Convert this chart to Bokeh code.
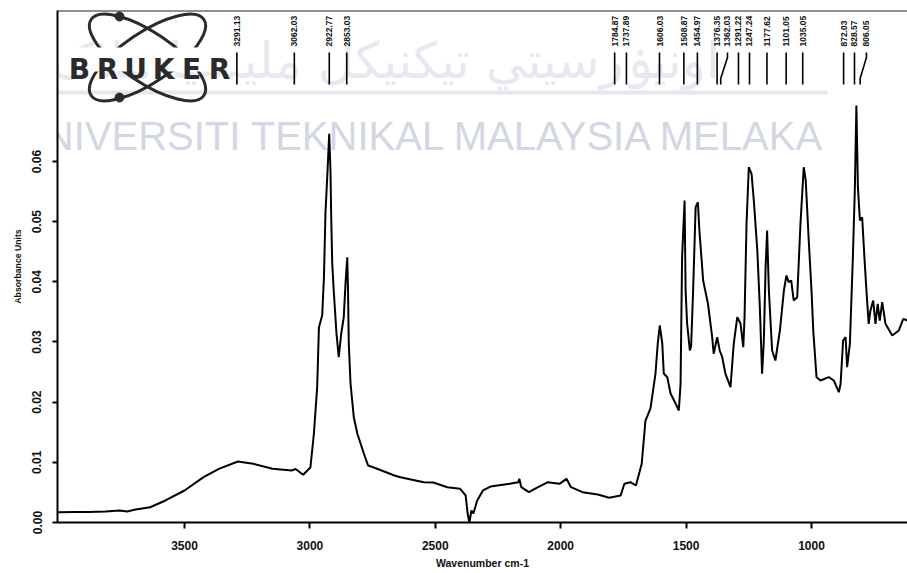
import math
from bokeh.plotting import figure
from bokeh.models import Range1d, FixedTicker, Span, Label, PrintfTickFormatter
from bokeh.core.properties import value
from bokeh.embed import file_html
from bokeh.resources import INLINE

# ---------------- data ----------------
wavenumber = [4004, 3934, 3883, 3815, 3759, 3729, 3695, 3637, 3576, 3500, 3424, 3363, 3287, 3226,
              3149, 3073, 3057, 3027, 2998, 2984, 2971, 2964, 2951, 2944, 2938, 2929, 2923, 2918,
              2915, 2911, 2905, 2894, 2885, 2875, 2865, 2858, 2851, 2848, 2845, 2838, 2825, 2811,
              2785, 2768, 2745, 2663, 2639, 2546, 2508, 2452, 2401, 2379, 2371, 2364, 2356, 2348,
              2333, 2310, 2280, 2203, 2169, 2165, 2157, 2127, 2096, 2051, 2005, 1977, 1959, 1913,
              1852, 1807, 1761, 1746, 1722, 1700, 1677, 1662, 1642, 1622, 1613, 1605, 1595, 1589,
              1575, 1562, 1542, 1529, 1522, 1516, 1506, 1502, 1496, 1485, 1480, 1472, 1462, 1453,
              1447, 1432, 1413, 1396, 1390, 1376, 1366, 1356, 1343, 1323, 1310, 1296, 1283, 1272,
              1267, 1259, 1250, 1239, 1230, 1216, 1206, 1197, 1190, 1183, 1177, 1170, 1157, 1144,
              1126, 1110, 1100, 1091, 1081, 1071, 1057, 1044, 1031, 1023, 1011, 1000, 993, 980,
              964, 931, 911, 891, 884, 874, 864, 858, 847, 835, 827, 821, 815, 807, 798, 789, 781,
              772, 765, 754, 745, 736, 728, 718, 705, 678, 652, 634, 618]
absorbance = [0.00171, 0.00175, 0.00175, 0.00183, 0.00200, 0.00183, 0.00216, 0.00254, 0.00366,
              0.00532, 0.00753, 0.00892, 0.01014, 0.00976, 0.00892, 0.00864, 0.00889, 0.00793,
              0.00914, 0.01479, 0.02249, 0.03246, 0.03440, 0.04077, 0.05135, 0.05905, 0.06460,
              0.05850, 0.05074, 0.04304, 0.03856, 0.03141, 0.02747, 0.03141, 0.03412, 0.03972,
              0.04409, 0.03856, 0.02975, 0.02310, 0.01750, 0.01479, 0.01147, 0.00947, 0.00914,
              0.00781, 0.00753, 0.00670, 0.00665, 0.00587, 0.00560, 0.00449, 0.00145, 0.00000,
              0.00199, 0.00150, 0.00366, 0.00532, 0.00598, 0.00643, 0.00670, 0.00726, 0.00587,
              0.00504, 0.00577, 0.00670, 0.00643, 0.00726, 0.00587, 0.00504, 0.00465, 0.00410,
              0.00449, 0.00643, 0.00670, 0.00615, 0.00976, 0.01695, 0.01895, 0.02476, 0.02975,
              0.03274, 0.02975, 0.02476, 0.02415, 0.02144, 0.01978, 0.01861, 0.02310, 0.04409,
              0.05352, 0.03856, 0.03307, 0.02859, 0.02925, 0.03856, 0.05240, 0.05323, 0.04853,
              0.04022, 0.03640, 0.03080, 0.02804, 0.03080, 0.02859, 0.02747, 0.02471, 0.02249,
              0.02970, 0.03412, 0.03307, 0.02913, 0.03412, 0.04964, 0.05905, 0.05795, 0.05352,
              0.04521, 0.03578, 0.02471, 0.03025, 0.04243, 0.04853, 0.03856, 0.02859, 0.02692,
              0.03191, 0.03856, 0.04105, 0.03994, 0.04022, 0.03690, 0.03744, 0.04964, 0.05905,
              0.05684, 0.04687, 0.03856, 0.03191, 0.02415, 0.02360, 0.02415, 0.02360, 0.02166,
              0.02305, 0.03025, 0.03080, 0.02581, 0.02970, 0.04409, 0.05573, 0.06930, 0.05573,
              0.05019, 0.05074, 0.04409, 0.03856, 0.03302, 0.03523, 0.03690, 0.03302, 0.03635,
              0.03357, 0.03661, 0.03302, 0.03108, 0.03191, 0.03385, 0.03357]

# picked peaks: position of the peak and position where its label is written
peak_wn = [3291.13, 3062.03, 2922.77, 2853.03, 1784.87, 1737.89, 1606.03, 1508.87, 1454.97,
           1376.35, 1362.03, 1291.22, 1247.24, 1177.62, 1101.05, 1035.05, 872.03, 828.57, 806.05]
peak_label_wn = [3291.13, 3062.03, 2922.77, 2853.03, 1784.87, 1737.89, 1606.03, 1508.87, 1454.97,
                 1376.35, 1335.0, 1291.22, 1247.24, 1177.62, 1101.05, 1035.05, 872.03, 828.57, 781.0]
peak_text = ["%.2f" % w for w in peak_wn]

x_ticks = [3500, 3000, 2500, 2000, 1500, 1000]
y_ticks = [0.0, 0.01, 0.02, 0.03, 0.04, 0.05, 0.06]
x_title = "Wavenumber cm-1"
y_title = "Absorbance Units"
watermark = "UNIVERSITI TEKNIKAL MALAYSIA MELAKA"
watermark_jawi = "اونيۏرسيتي تيکنيکل مليسيا ملاک"
logo_letters = ["B", "R", "U", "K", "E", "R"]

# page-pixel -> data helpers (used only for layout / decoration placement)
WN_PER_PX = 500 / 125.4
def wx(px):
    return 1000 + (811 - px) * WN_PER_PX
def vy(py):
    return (522 - py) / 6017

X_START, X_END = wx(57), wx(907)
Y_END = vy(10)

FONT = value("Liberation Sans")

p = figure(width=907, height=573, output_backend="svg", toolbar_location=None,
           x_range=Range1d(X_START, X_END), y_range=Range1d(0, Y_END),
           min_border_left=57, min_border_right=0, min_border_top=10, min_border_bottom=51)
p.outline_line_color = None
p.grid.visible = False
p.background_fill_color = "white"
p.border_fill_color = "white"

# watermark (underlay)
p.add_layout(Label(x=wx(826), y=vy(135), text=watermark, text_align="right",
                   text_baseline="alphabetic", text_font="Liberation Sans",
                   text_font_size="40px", text_color="#d3d7e5", level="underlay"))
p.add_layout(Label(x=wx(385), y=vy(60), text=watermark_jawi, text_align="center",
                   text_baseline="alphabetic", text_font="DejaVu Sans",
                   text_font_size="50px", text_color="#e8e9f0", level="underlay"))
p.segment(x0=[wx(0)], y0=[vy(92)], x1=[wx(827)], y1=[vy(92)], line_color="#e6e7ed", line_width=4)

# axes
p.xaxis.ticker = FixedTicker(ticks=x_ticks, minor_ticks=[])
p.yaxis.ticker = FixedTicker(ticks=y_ticks, minor_ticks=[])
p.xaxis.formatter = PrintfTickFormatter(format="%d")
p.yaxis.formatter = PrintfTickFormatter(format="%.2f")
for ax in (p.xaxis, p.yaxis):
    ax.axis_line_width = 2
    ax.axis_line_color = "black"
    ax.major_tick_line_width = 2
    ax.major_tick_line_color = "black"
    ax.major_tick_in = 0
    ax.minor_tick_out = 0
    ax.minor_tick_in = 0
    ax.major_label_text_font = "Liberation Sans"
    ax.major_label_text_font_size = "12px"
    ax.major_label_text_font_style = "bold"
    ax.major_label_text_color = "#111111"
    ax.axis_label_text_font = "Liberation Sans"
    ax.axis_label_text_font_style = "bold"
    ax.axis_label_text_color = "#111111"
p.xaxis.major_tick_out = 6
p.yaxis.major_tick_out = 5
p.xaxis.major_label_standoff = 12
p.yaxis.major_label_standoff = 11
p.yaxis.major_label_orientation = "vertical"
p.xaxis.axis_label = x_title
p.yaxis.axis_label = y_title
p.xaxis.axis_label_text_font_size = "10.5px"
p.yaxis.axis_label_text_font_size = "8.7px"
p.xaxis.axis_label_standoff = 4
p.yaxis.axis_label_standoff = 7

p.add_layout(Span(location=Y_END, dimension="width", line_color="#222222", line_width=2))

# Bruker logo
cx, cy = wx(147), vy(57)
p.ellipse(x=[cx, cx], y=[cy, cy], width=136, height=50, width_units="screen",
          height_units="screen", angle=[math.radians(-34), math.radians(34)],
          fill_color=None, line_color="#2b2b2b", line_width=3)
p.scatter(x=[wx(119), wx(119)], y=[vy(16), vy(97)], size=9, color="#2b2b2b")
p.rect(x=[wx(149)], y=[vy(59)], width=178, height=24, width_units="screen",
       height_units="screen", fill_color="white", line_color=None)
p.text(x=[wx(79 + 28 * i) for i in range(len(logo_letters))], y=[vy(69)] * len(logo_letters),
       text=logo_letters, text_align="center", text_baseline="alphabetic",
       text_font=value("DejaVu Sans"), text_font_style="bold", text_font_size="28px",
       text_color="#2b2b2b")

# spectrum
p.line(wavenumber, absorbance, line_color="black", line_width=2)

# peak markers
y_top, y_k1, y_k2, y_bot = vy(52), vy(57), vy(78), vy(84)
xs, ys = [], []
for pk, lb in zip(peak_wn, peak_label_wn):
    xs.append([lb, lb, pk, pk])
    ys.append([y_top, y_k1, y_k2, y_bot])
p.multi_line(xs=xs, ys=ys, line_color="black", line_width=1.6)
p.text(x=peak_label_wn, y=[vy(46)] * len(peak_label_wn), text=peak_text, angle=math.pi / 2,
       text_align="left", text_baseline="middle", text_font=FONT, text_font_style="bold",
       text_font_size="8.5px", text_color="#111111")

open("out.html", "w").write(file_html(p, INLINE))
